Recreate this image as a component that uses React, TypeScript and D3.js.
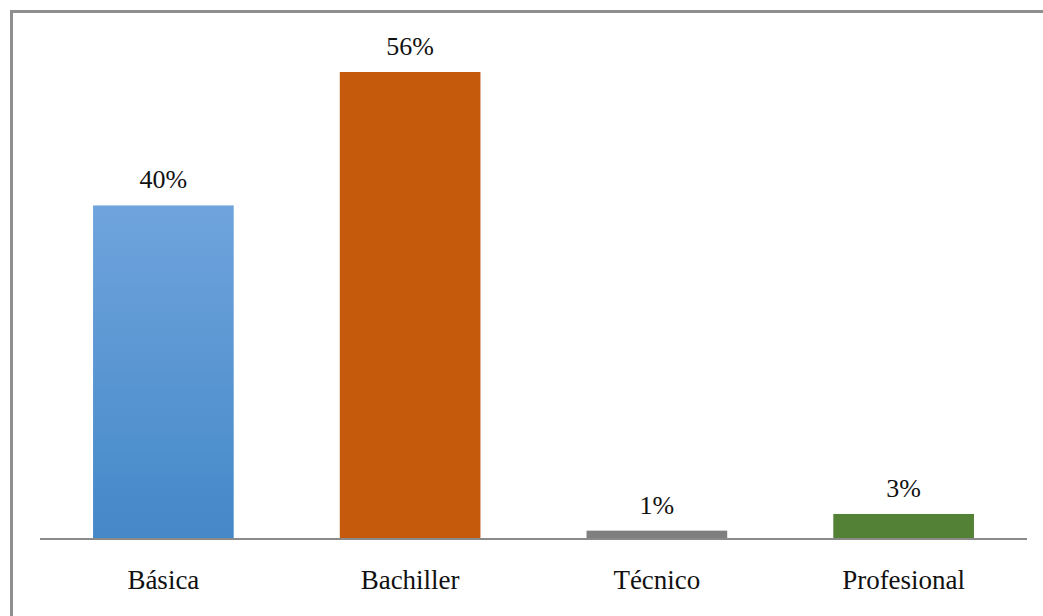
import React from "react";
import * as d3 from "d3";

const categories = ["Básica", "Bachiller", "Técnico", "Profesional"];
const values = [40, 56, 1, 3];
const valueLabels = ["40%", "56%", "1%", "3%"];
const colors = ["url(#blueGrad)", "#c55a11", "#7f7f7f", "#538135"];

export default function App() {
  const W = 1043;
  const H = 616;
  const x = d3.scaleBand<string>().domain(categories).range([40, 1027]).paddingInner(0.43).paddingOuter(0.215);
  const y = d3.scaleLinear().domain([0, 56]).range([539, 72]);
  const font = "Liberation Serif";
  return (
    <svg width={W} height={H} style={{ position: "absolute", left: 0, top: 0, background: "#fff" }}>
      <defs>
        <linearGradient id="blueGrad" x1="0" y1="0" x2="0" y2="1">
          <stop offset="0" stopColor="#6fa4dd" />
          <stop offset="1" stopColor="#4488c8" />
        </linearGradient>
        <filter id="soft" x="-5%" y="-5%" width="110%" height="110%">
          <feGaussianBlur stdDeviation="0.6" />
        </filter>
      </defs>
      <line x1={10} x2={W} y1={11.5} y2={11.5} stroke="#8f8f8f" strokeWidth={3} />
      <line x1={11.5} x2={11.5} y1={10} y2={H} stroke="#8f8f8f" strokeWidth={3} />
      {categories.map((c, i) => (
        <g key={c}>
          <rect
            x={x(c)!}
            y={y(values[i])}
            width={x.bandwidth()}
            height={y(0) - y(values[i])}
            fill={colors[i]}
            filter="url(#soft)"
          />
          <text
            x={x(c)! + x.bandwidth() / 2}
            y={y(values[i]) - 17}
            textAnchor="middle"
            fontFamily={font}
            fontSize={26}
            fill="#111"
          >
            {valueLabels[i]}
          </text>
          <text
            x={x(c)! + x.bandwidth() / 2}
            y={589}
            textAnchor="middle"
            fontFamily={font}
            fontSize={27}
            fill="#111"
          >
            {c}
          </text>
        </g>
      ))}
      <line x1={40} x2={1027} y1={y(0)} y2={y(0)} stroke="#8a8a8a" strokeWidth={2} />
    </svg>
  );
}
